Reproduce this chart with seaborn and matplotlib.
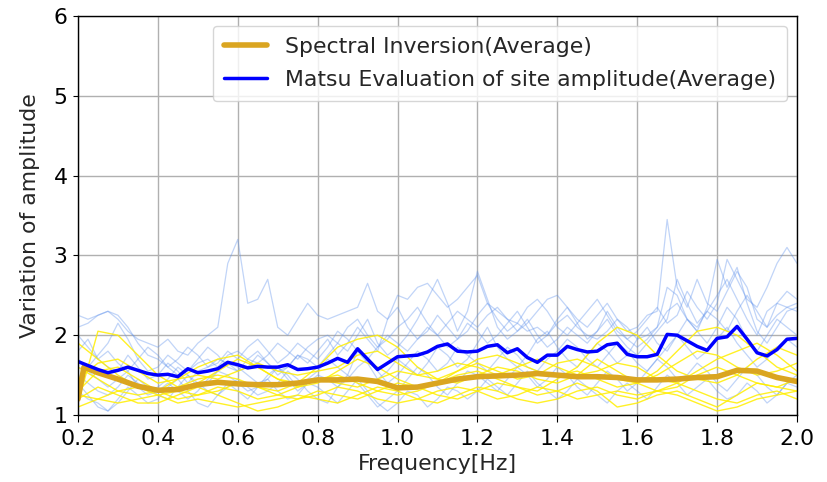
import numpy as np
import pandas as pd
import matplotlib
matplotlib.use("Agg")
import matplotlib.pyplot as plt
import seaborn as sns

# ---------------- data ----------------
# fine grid (step 0.025) for the spiky light-blue individual curves
freq_fine = [round(0.2 + 0.025 * i, 3) for i in range(73)]
# coarse grid (step 0.05) for the smooth yellow individual curves
freq_coarse = [round(0.2 + 0.05 * i, 2) for i in range(37)]

matsu_1 = [2.25, 2.20, 2.25, 2.30, 2.20, 2.05, 1.95, 1.90,
           1.85, 1.95, 1.80, 1.75, 1.90, 2.00, 2.10, 2.90,
           3.20, 2.40, 2.45, 2.70, 2.10, 2.00, 2.20, 2.40,
           2.25, 2.20, 2.25, 2.30, 2.35, 2.65, 2.30, 2.20,
           2.50, 2.45, 2.60, 2.65, 2.50, 2.35, 2.45, 2.60,
           2.75, 2.40, 2.30, 2.20, 2.15, 2.05, 2.10, 2.00,
           2.15, 2.25, 2.10, 2.00, 1.95, 2.05, 2.20, 2.10,
           1.95, 2.00, 2.10, 2.30, 2.40, 2.20, 2.10, 2.30,
           2.50, 2.70, 2.45, 2.20, 2.00, 2.30, 2.40, 2.35,
           2.30]
matsu_2 = [2.10, 2.15, 2.25, 2.30, 2.25, 2.10, 1.90, 1.75,
           1.70, 1.60, 1.50, 1.55, 1.65, 1.70, 1.60, 1.75,
           1.80, 1.70, 1.65, 1.75, 1.90, 1.80, 1.70, 1.85,
           1.95, 2.00, 1.90, 2.10, 2.20, 2.00, 1.85, 1.95,
           2.10, 2.20, 2.35, 2.15, 2.00, 2.15, 2.30, 2.20,
           2.10, 2.25, 2.35, 2.20, 2.05, 2.15, 2.30, 2.45,
           2.50, 2.35, 2.20, 2.10, 2.25, 2.40, 2.20, 2.05,
           2.10, 2.25, 2.30, 3.45, 2.60, 2.35, 2.70, 2.40,
           2.30, 2.55, 2.80, 2.60, 2.20, 2.10, 2.25, 2.35,
           2.40]
matsu_3 = [1.80, 1.95, 1.70, 1.60, 1.55, 1.75, 1.60, 1.45,
           1.50, 1.65, 1.55, 1.40, 1.55, 1.60, 1.70, 1.65,
           1.55, 1.60, 1.75, 1.65, 1.50, 1.60, 1.75, 1.70,
           1.60, 1.75, 1.90, 1.80, 2.00, 2.20, 1.90, 1.75,
           1.85, 2.00, 2.20, 2.45, 2.70, 2.40, 2.05, 2.30,
           2.80, 2.45, 2.10, 1.95, 2.05, 2.20, 2.00, 1.85,
           1.95, 2.10, 2.00, 1.90, 2.05, 2.30, 2.10, 1.95,
           1.85, 1.95, 2.10, 2.60, 2.50, 2.20, 2.05, 2.35,
           2.95, 2.60, 2.85, 2.40, 2.05, 1.90, 2.10, 2.30,
           2.35]
matsu_4 = [1.50, 1.40, 1.30, 1.25, 1.35, 1.50, 1.40, 1.30,
           1.35, 1.45, 1.60, 1.50, 1.35, 1.40, 1.55, 1.65,
           1.60, 1.50, 1.40, 1.45, 1.60, 1.50, 1.35, 1.45,
           1.55, 1.70, 1.60, 1.50, 1.80, 1.65, 1.45, 1.55,
           1.70, 1.60, 1.50, 1.65, 1.85, 1.75, 1.60, 1.70,
           1.90, 2.10, 1.85, 1.70, 1.60, 1.75, 1.95, 2.05,
           1.85, 1.70, 1.60, 1.75, 1.90, 1.80, 1.65, 1.75,
           1.95, 2.10, 1.90, 1.80, 2.00, 2.20, 2.05, 1.90,
           2.10, 2.35, 2.20, 1.95, 1.80, 2.00, 2.20, 2.10,
           2.00]
matsu_5 = [1.30, 1.20, 1.15, 1.05, 1.15, 1.30, 1.45, 1.35,
           1.25, 1.20, 1.35, 1.50, 1.40, 1.30, 1.25, 1.35,
           1.45, 1.35, 1.25, 1.30, 1.40, 1.55, 1.45, 1.30,
           1.20, 1.15, 1.35, 1.50, 1.40, 1.25, 1.10, 1.20,
           1.30, 1.45, 1.60, 1.50, 1.35, 1.25, 1.40, 1.55,
           1.50, 1.40, 1.30, 1.45, 1.60, 1.50, 1.35, 1.45,
           1.60, 1.50, 1.35, 1.25, 1.40, 1.55, 1.45, 1.30,
           1.40, 1.55, 1.70, 1.60, 1.45, 1.50, 1.65, 1.55,
           1.40, 1.30, 1.45, 1.60, 1.50, 1.35, 1.25, 1.40,
           1.50]
matsu_6 = [2.00, 1.85, 1.70, 1.80, 1.65, 1.55, 1.70, 1.85,
           1.75, 1.60, 1.70, 1.85, 1.75, 1.60, 1.65, 1.80,
           1.70, 1.85, 1.95, 1.80, 1.65, 1.75, 1.90, 1.80,
           1.70, 1.85, 2.05, 1.95, 1.80, 1.70, 1.85, 2.00,
           1.90, 1.80, 1.95, 2.10, 2.00, 1.85, 1.95, 2.15,
           2.05, 1.90, 2.00, 2.15, 2.30, 2.10, 1.90, 2.00,
           2.20, 2.35, 2.15, 1.95, 2.05, 2.20, 2.00, 1.85,
           1.75, 1.90, 2.05, 2.20, 2.70, 2.40, 2.15, 2.30,
           2.20, 2.05, 2.30, 2.50, 2.30, 2.10, 2.40, 2.55,
           2.45]
matsu_7 = [1.60, 1.55, 1.45, 1.35, 1.45, 1.55, 1.35, 1.25,
           1.30, 1.40, 1.30, 1.20, 1.30, 1.45, 1.55, 1.50,
           1.40, 1.30, 1.35, 1.50, 1.60, 1.45, 1.30, 1.40,
           1.50, 1.45, 1.35, 1.45, 1.60, 1.70, 1.55, 1.40,
           1.50, 1.65, 1.80, 1.70, 1.55, 1.65, 1.85, 1.75,
           1.65, 1.55, 1.70, 1.85, 1.75, 1.60, 1.55, 1.70,
           1.80, 1.95, 1.85, 1.70, 1.60, 1.75, 1.90, 1.80,
           1.65, 1.55, 1.70, 1.85, 2.00, 1.85, 1.70, 1.80,
           1.95, 2.10, 1.90, 1.75, 1.60, 1.70, 1.85, 1.95,
           1.85]
matsu_8 = [1.40, 1.25, 1.10, 1.05, 1.20, 1.35, 1.25, 1.15,
           1.20, 1.35, 1.45, 1.30, 1.15, 1.10, 1.25, 1.40,
           1.30, 1.20, 1.35, 1.45, 1.30, 1.20, 1.25, 1.40,
           1.35, 1.25, 1.15, 1.30, 1.45, 1.30, 1.15, 1.05,
           1.15, 1.30, 1.25, 1.10, 1.20, 1.35, 1.30, 1.20,
           1.30, 1.45, 1.35, 1.25, 1.40, 1.55, 1.40, 1.30,
           1.20, 1.30, 1.45, 1.35, 1.25, 1.15, 1.30, 1.40,
           1.30, 1.20, 1.35, 1.50, 1.40, 1.25, 1.35, 1.45,
           1.30, 1.20, 1.25, 1.40, 1.30, 1.15, 1.25, 1.40,
           1.35]
matsu_9 = [1.70, 1.60, 1.75, 1.90, 2.15, 1.95, 1.70, 1.55,
           1.60, 1.75, 1.65, 1.55, 1.70, 1.85, 1.75, 1.60,
           1.55, 1.70, 1.80, 1.65, 1.55, 1.60, 1.75, 1.65,
           1.80, 1.95, 1.75, 1.90, 2.10, 1.95, 1.80, 2.20,
           2.35, 2.10, 1.95, 2.05, 2.25, 2.10, 1.95, 2.05,
           2.25, 2.40, 2.20, 2.05, 2.15, 2.35, 2.45, 2.30,
           2.10, 2.00, 2.15, 2.30, 2.45, 2.25, 2.05, 1.95,
           2.05, 2.20, 2.35, 2.15, 2.25, 2.55, 2.35, 2.20,
           2.40, 2.95, 2.70, 2.45, 2.35, 2.60, 2.90, 3.10,
           2.90]

spec_1 = [1.15, 2.05, 2.00, 1.75, 1.50, 1.35, 1.40, 1.55, 1.70, 1.60, 1.45, 1.35, 1.40,
          1.55, 1.70, 1.60, 1.45, 1.35, 1.40, 1.55, 1.65, 1.55, 1.45, 1.50, 1.65,
          1.70, 1.60, 1.45, 1.40, 1.50, 1.65, 1.80, 1.75, 1.60, 1.50, 1.55, 1.65]
spec_2 = [1.90, 1.70, 1.50, 1.35, 1.30, 1.35, 1.45, 1.50, 1.45, 1.35, 1.30, 1.40, 1.60,
          1.85, 1.95, 2.00, 1.85, 1.60, 1.45, 1.40, 1.50, 1.60, 1.55, 1.45, 1.40,
          1.50, 1.70, 1.55, 1.40, 1.30, 1.35, 1.50, 1.60, 1.50, 1.40, 1.35, 1.45]
spec_3 = [1.30, 1.55, 1.60, 1.45, 1.30, 1.20, 1.25, 1.35, 1.30, 1.20, 1.25, 1.35, 1.45,
          1.50, 1.40, 1.30, 1.25, 1.30, 1.40, 1.50, 1.55, 1.45, 1.35, 1.30, 1.45,
          1.60, 1.90, 2.10, 2.00, 1.75, 1.55, 1.45, 1.40, 1.50, 1.70, 1.85, 1.75]
spec_4 = [1.20, 1.35, 1.25, 1.15, 1.15, 1.25, 1.35, 1.25, 1.15, 1.05, 1.10, 1.20, 1.30,
          1.25, 1.20, 1.30, 1.40, 1.35, 1.25, 1.20, 1.30, 1.40, 1.35, 1.25, 1.30,
          1.40, 1.30, 1.10, 1.15, 1.25, 1.30, 1.20, 1.10, 1.25, 1.40, 1.35, 1.30]
spec_5 = [1.60, 1.45, 1.30, 1.25, 1.30, 1.45, 1.60, 1.70, 1.75, 1.60, 1.45, 1.40, 1.45,
          1.40, 1.35, 1.45, 1.55, 1.50, 1.45, 1.55, 1.70, 1.75, 1.65, 1.55, 1.50,
          1.55, 1.45, 1.35, 1.40, 1.55, 1.80, 2.05, 2.10, 2.00, 1.80, 1.60, 1.50]
spec_6 = [1.25, 1.20, 1.15, 1.20, 1.25, 1.30, 1.25, 1.30, 1.40, 1.35, 1.25, 1.20, 1.25,
          1.35, 1.30, 1.20, 1.15, 1.20, 1.30, 1.35, 1.30, 1.20, 1.25, 1.35, 1.30,
          1.20, 1.25, 1.30, 1.25, 1.30, 1.40, 1.30, 1.20, 1.15, 1.25, 1.30, 1.20]
spec_7 = [1.45, 1.65, 1.70, 1.55, 1.40, 1.45, 1.50, 1.45, 1.55, 1.65, 1.55, 1.50, 1.55,
          1.60, 1.75, 1.80, 1.65, 1.50, 1.55, 1.65, 1.60, 1.50, 1.60, 1.70, 1.60,
          1.50, 1.55, 1.65, 1.60, 1.45, 1.40, 1.55, 1.70, 1.80, 1.90, 1.75, 1.55]
spec_8 = [1.10, 1.20, 1.30, 1.35, 1.25, 1.15, 1.20, 1.15, 1.10, 1.15, 1.20, 1.25, 1.20,
          1.15, 1.25, 1.35, 1.30, 1.20, 1.15, 1.25, 1.35, 1.30, 1.20, 1.15, 1.20,
          1.30, 1.35, 1.25, 1.20, 1.30, 1.25, 1.15, 1.05, 1.10, 1.20, 1.25, 1.30]

# averages
matsu_avg_freq = freq_fine
matsu_avg = [1.67, 1.62, 1.57, 1.53, 1.56, 1.60, 1.56, 1.52,
             1.50, 1.51, 1.48, 1.58, 1.53, 1.55, 1.58, 1.66,
             1.63, 1.59, 1.61, 1.60, 1.60, 1.63, 1.57, 1.58,
             1.60, 1.65, 1.71, 1.66, 1.83, 1.70, 1.57, 1.65,
             1.73, 1.74, 1.75, 1.79, 1.86, 1.89, 1.80, 1.79,
             1.80, 1.86, 1.88, 1.78, 1.83, 1.72, 1.66, 1.75,
             1.75, 1.86, 1.82, 1.79, 1.80, 1.88, 1.90, 1.76,
             1.73, 1.73, 1.76, 2.01, 2.00, 1.93, 1.86, 1.81,
             1.96, 1.98, 2.11, 1.95, 1.78, 1.74, 1.82, 1.95,
             1.96]
spec_avg_freq = [0.200, 0.215, 0.25, 0.30, 0.35, 0.40, 0.45, 0.50, 0.55, 0.60, 0.65, 0.70,
                 0.75, 0.80, 0.85, 0.90, 0.95, 1.00, 1.05, 1.10, 1.15, 1.20, 1.25, 1.30,
                 1.35, 1.40, 1.45, 1.50, 1.55, 1.60, 1.65, 1.70, 1.75, 1.80, 1.85, 1.90,
                 1.95, 2.00]
spec_avg = [1.20, 1.60, 1.53, 1.45, 1.36, 1.31, 1.32, 1.38, 1.41, 1.39, 1.38, 1.38,
            1.40, 1.44, 1.44, 1.45, 1.42, 1.34, 1.35, 1.40, 1.45, 1.48, 1.49, 1.50,
            1.52, 1.50, 1.48, 1.48, 1.47, 1.44, 1.44, 1.45, 1.47, 1.48, 1.56, 1.55,
            1.47, 1.42]

matsu_curves = [matsu_1, matsu_2, matsu_3, matsu_4, matsu_5, matsu_6, matsu_7, matsu_8, matsu_9]
spec_curves = [spec_1, spec_2, spec_3, spec_4, spec_5, spec_6, spec_7, spec_8]

x_ticks = [0.2, 0.4, 0.6, 0.8, 1.0, 1.2, 1.4, 1.6, 1.8, 2.0]
y_ticks = [1, 2, 3, 4, 5, 6]

# ---------------- plot ----------------
sns.set_theme(style="ticks", rc={
    "axes.edgecolor": "black",
    "axes.linewidth": 1.0,
    "grid.color": "#b0b0b0",
    "grid.linewidth": 1.0,
    "xtick.color": "black",
    "ytick.color": "black",
    "xtick.major.size": 5,
    "ytick.major.size": 3.5,
    "xtick.major.width": 0.8,
    "ytick.major.width": 0.8,
    "xtick.major.pad": 5,
    "ytick.major.pad": 4,
})
plt.rcParams["font.family"] = ["DejaVu Sans"]
FS = 15.8

fig, ax = plt.subplots(figsize=(8.27, 4.82), dpi=100)
fig.subplots_adjust(left=0.0943, right=0.9637, top=0.9668, bottom=0.139)

for c in matsu_curves:
    sns.lineplot(x=freq_fine, y=c, ax=ax, color="cornflowerblue", alpha=0.4,
                 linewidth=0.9, legend=False)
for c in spec_curves:
    sns.lineplot(x=freq_coarse, y=c, ax=ax, color="#ffee00", alpha=0.85,
                 linewidth=1.0, legend=False)

sns.lineplot(x=spec_avg_freq, y=spec_avg, ax=ax, color="goldenrod", linewidth=4,
             label="Spectral Inversion(Average)")
sns.lineplot(x=matsu_avg_freq, y=matsu_avg, ax=ax, color="blue", linewidth=2.5,
             label="Matsu Evaluation of site amplitude(Average)")

ax.set_xlim(0.2, 2.0)
ax.set_ylim(1, 6)
ax.set_xticks(x_ticks)
ax.set_xticklabels([f"{t:.1f}" for t in x_ticks], fontsize=FS)
ax.set_yticks(y_ticks)
ax.set_yticklabels([str(t) for t in y_ticks], fontsize=FS)
ax.grid(True)
ax.set_xlabel("Frequency[Hz]", fontsize=FS, labelpad=4)
ax.set_ylabel("Variation of amplitude", fontsize=FS, labelpad=10)
ax.legend(loc="upper right", fontsize=FS, frameon=True, borderaxespad=0.45,
          labelspacing=0.6, borderpad=0.5)

fig.savefig("out.png", dpi=100)
